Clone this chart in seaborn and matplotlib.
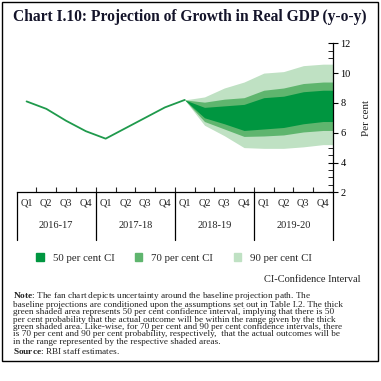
import numpy as np
import matplotlib
matplotlib.use("Agg")
import matplotlib.pyplot as plt
import matplotlib.ticker as mtick
from matplotlib.patches import Patch, Rectangle
from matplotlib.transforms import blended_transform_factory
import seaborn as sns

# quarters 2016-17 Q1 ... 2019-20 Q4
quarters = ["Q1", "Q2", "Q3", "Q4"] * 4
years = ["2016-17", "2017-18", "2018-19", "2019-20"]

# actual growth, 2016-17 Q1 to 2018-19 Q1
actual = [8.1, 7.6, 6.8, 6.1, 5.6, 6.3, 7.0, 7.7, 8.2]

# fan chart bands, 2018-19 Q1 to 2019-20 Q4
ci90_hi = [8.2, 8.4, 9.0, 9.4, 10.0, 10.1, 10.5, 10.6]
ci70_hi = [8.2, 8.05, 8.25, 8.35, 8.85, 9.0, 9.3, 9.4]
ci50_hi = [8.2, 7.7, 7.8, 7.9, 8.35, 8.45, 8.75, 8.85]
ci50_lo = [8.2, 7.0, 6.6, 6.15, 6.25, 6.35, 6.6, 6.75]
ci70_lo = [8.2, 6.75, 6.25, 5.75, 5.78, 5.85, 6.05, 6.15]
ci90_lo = [8.2, 6.5, 5.8, 5.0, 4.95, 4.95, 5.05, 5.2]

C50 = "#009640"
C70 = "#5fb56e"
C90 = "#bfe1c3"
LINE = "#1f9a4c"
SERIF = "Liberation Serif"
TXT = "#222222"

sns.set_theme(style="white")
plt.rcParams["font.family"] = [SERIF, "DejaVu Serif"]
plt.rcParams["mathtext.fontset"] = "custom"
plt.rcParams["mathtext.rm"] = SERIF
plt.rcParams["mathtext.bf"] = SERIF + ":bold"

W = 381
fig = plt.figure(figsize=(W / 100, W / 100), dpi=100)


def fx(px):
    return px / W


def fy(py):
    return 1 - py / W


ax = fig.add_axes([fx(16.7), fy(192.3), fx(333 - 16.7), 149 / W])

x_act = np.arange(len(actual))
x_fan = np.arange(8, 8 + len(ci50_hi)).astype(float)
# bands run on to the right-hand axis
x_fan_ext = np.append(x_fan, 15.5)


def ext(v):
    return np.append(v, v[-1])


ax.fill_between(x_fan_ext, ext(ci90_lo), ext(ci90_hi), color=C90, lw=0)
ax.fill_between(x_fan_ext, ext(ci70_lo), ext(ci70_hi), color=C70, lw=0)
ax.fill_between(x_fan_ext, ext(ci50_lo), ext(ci50_hi), color=C50, lw=0)
sns.lineplot(x=x_act, y=actual, ax=ax, color=LINE, lw=1.3)

ax.set_xlim(-0.5, 15.5)
ax.set_ylim(2, 12)

for side in ["left", "top"]:
    ax.spines[side].set_visible(False)
for side in ["bottom", "right"]:
    ax.spines[side].set_color("black")
    ax.spines[side].set_linewidth(0.9)

ax.yaxis.tick_right()
ax.yaxis.set_label_position("right")
ax.set_yticks(range(2, 13, 2))
ax.yaxis.set_minor_locator(mtick.MultipleLocator(0.5))
ax.tick_params(axis="y", which="major", direction="inout", length=7, width=0.8,
               labelsize=7.5, pad=2, colors="black", right=True)
ax.tick_params(axis="y", which="minor", direction="in", length=3.5, width=0.7,
               right=True)
ax.set_ylabel("Per cent", fontsize=8, labelpad=8, color=TXT)

ax.set_xticks(np.arange(16))
ax.set_xticklabels(quarters)
ax.xaxis.set_minor_locator(mtick.FixedLocator(np.arange(0.5, 15, 1)))
ax.tick_params(axis="x", which="major", length=0, labelsize=7.5, pad=4.5,
               colors=TXT)
ax.tick_params(axis="x", which="minor", direction="in", length=3.5, width=0.8,
               bottom=True)

trans = blended_transform_factory(ax.transData, ax.transAxes)
for b in [-0.5, 3.5, 7.5, 11.5, 15.5]:
    ax.plot([b, b], [0, -0.32], color="black", lw=0.9, transform=trans,
            clip_on=False)
for i, yr in enumerate(years):
    ax.text(i * 4 + 1.5, -0.226, yr, transform=trans, ha="center", va="center",
            fontsize=7.5, color=TXT)

fig.text(fx(13), fy(17), "Chart I.10: Projection of Growth in Real GDP (y-o-y)",
         ha="left", va="center", fontsize=11.2, weight="bold", color="#14142a")

handles = [Patch(color=C50, label="50 per cent CI"),
           Patch(color=C70, label="70 per cent CI"),
           Patch(color=C90, label="90 per cent CI")]
fig.legend(handles=handles, loc="center", bbox_to_anchor=(fx(174), fy(258)),
           ncol=3, frameon=False, fontsize=7.8, handlelength=0.7,
           handleheight=0.7, handletextpad=0.8, columnspacing=1.9)
fig.text(fx(360), fy(280), "CI-Confidence Interval", ha="right", va="center",
         fontsize=7.5, color=TXT)

note_lines = [
    r"$\mathbf{Note}$: The fan chart depicts uncertainty around the baseline projection path. The",
    "baseline projections are conditioned upon the assumptions set out in Table I.2. The thick",
    "green shaded area represents 50 per cent confidence interval, implying that there is 50",
    "per cent probability that the actual outcome will be within the range given by the thick",
    "green shaded area. Like-wise, for 70 per cent and 90 per cent confidence intervals, there",
    "is 70 per cent and 90 per cent probability, respectively,  that the actual outcomes will be",
    "in the range represented by the respective shaded areas.",
]
NOTE_FS = 6.7
fig.text(fx(12.7), fy(289.5), "\n".join(note_lines), ha="left", va="top",
         fontsize=NOTE_FS, color=TXT, linespacing=0.9)
fig.text(fx(12.7), fy(351.5), r"$\mathbf{Source}$: RBI staff estimates.",
         ha="left", va="center", fontsize=NOTE_FS, color=TXT)

fig.add_artist(Rectangle((fx(2), fy(361)), fx(376), (361 - 2) / W,
                         transform=fig.transFigure, fill=False, ec="black",
                         lw=1.0))

fig.savefig("out.png", dpi=100)
